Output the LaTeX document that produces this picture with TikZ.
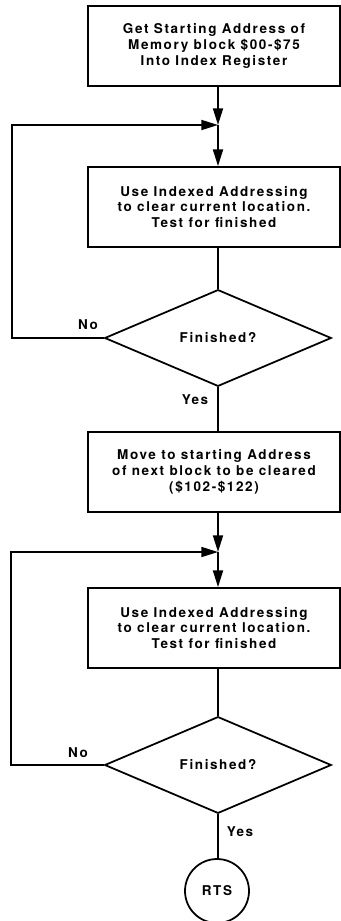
\documentclass[tikz,border=0pt]{standalone}
\usepackage{fontspec}
\setmainfont[LetterSpace=12]{TeX Gyre Heros}
\usetikzlibrary{arrows.meta,positioning,shapes.geometric}

\begin{document}
\begin{tikzpicture}[
  x=0.03cm, y=-0.03cm,
  line width=1.5pt,
  font=\fontsize{11.5}{13.6}\selectfont\bfseries,
  box/.style={draw, align=center, minimum width=7.56cm, minimum height=2.4cm, inner sep=0pt},
  dec/.style={draw, diamond, minimum width=6.8cm, minimum height=2.9cm, inner sep=0pt},
  term/.style={draw, circle, minimum size=1.92cm, inner sep=0pt},
  arr/.style={-{Triangle[length=5mm,width=3mm]}},
  lbl/.style={inner sep=0pt}
]
\useasboundingbox (0,0) rectangle (341,921);

% first block
\node[box] (b1) at (214,46)
  {Get Starting Address of\\Memory block \$00-\$75\\Into Index Register};
\coordinate (j1) at (218,125);
\coordinate (l1) at (12,125);
\node[box] (b2) at (214,207)
  {Use Indexed Addressing\\to clear current location.\\Test for finished};
\node[dec] (d1) at (218,338) {Finished?};
\node[lbl] at (88,325) {No};
\node[lbl] at (195,400) {Yes};

% second block
\node[box] (b3) at (214,472)
  {Move to starting Address\\of next block to be cleared\\(\$102-\$122)};
\coordinate (j2) at (218,552);
\coordinate (l2) at (11,552);
\node[box] (b4) at (214,628)
  {Use Indexed Addressing\\to clear current location.\\Test for finished};
\node[dec] (d2) at (218,765) {Finished?};
\node[lbl] at (78,753) {No};
\node[lbl] at (240,832) {Yes};
\node[term] (rts) at (217,891) {RTS};

\draw[arr] (b1.south -| j1) -- (j1);
\draw[arr] (j1) -- (j1 |- b2.north);
\draw (b2.south -| d1) -- (d1.north);
\draw[arr] (d1.west) -| (l1) -- (j1);
\draw (d1.south) -- (d1.south |- b3.north);
\draw[arr] (b3.south -| j2) -- (j2);
\draw[arr] (j2) -- (j2 |- b4.north);
\draw (b4.south -| d2) -- (d2.north);
\draw[arr] (d2.west) -| (l2) -- (j2);
\draw (d2.south) -- (d2.south |- rts.north);
\end{tikzpicture}
\end{document}
